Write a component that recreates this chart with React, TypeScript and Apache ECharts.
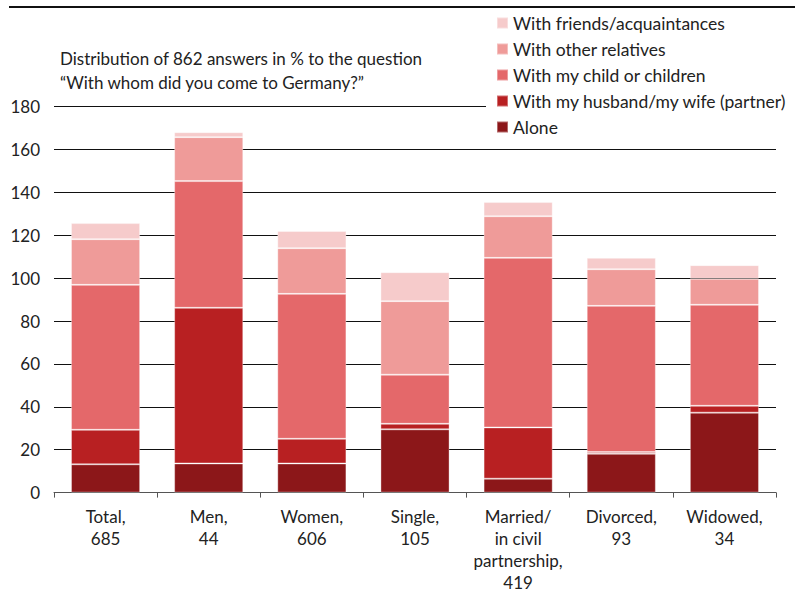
import React, { useEffect, useRef } from "react";
import * as echarts from "echarts";

const categories = [
  "Total,\n685",
  "Men,\n44",
  "Women,\n606",
  "Single,\n105",
  "Married/\nin civil\npartnership,\n419",
  "Divorced,\n93",
  "Widowed,\n34",
];

const alone = [13.2, 13.6, 13.6, 29.5, 6.5, 18.1, 37.3];
const husband = [16.1, 72.6, 11.5, 2.6, 23.9, 0.8, 3.2];
const child = [67.6, 59.1, 67.6, 22.9, 79.1, 68.2, 47.1];
const otherRelatives = [21.3, 20.5, 21.3, 34.3, 19.4, 17.1, 12.1];
const friends = [7.5, 2.3, 8.0, 13.5, 6.6, 5.3, 6.4];

const seriesNames = [
  "Alone",
  "With my husband/my wife (partner)",
  "With my child or children",
  "With other relatives",
  "With friends/acquaintances",
];
const colors = ["#8c1719", "#b82022", "#e4686a", "#ef9b99", "#f6cbcb"];

const FONT = "Lato";

export default function App() {
  const ref = useRef<HTMLDivElement>(null);
  useEffect(() => {
    if (!ref.current) return;
    const chart = echarts.init(ref.current, undefined, { renderer: "svg" });
    const dataSets = [alone, husband, child, otherRelatives, friends];
    chart.setOption({
      animation: false,
      textStyle: { fontFamily: FONT },
      title: {
        text: "Distribution of 862 answers in % to the question\n\u201cWith whom did you come to Germany?\u201d",
        left: 55,
        top: 41,
        textStyle: {
          fontFamily: FONT,
          fontSize: 17,
          fontWeight: "normal",
          color: "#222",
          lineHeight: 24,
        },
      },
      legend: {
        orient: "vertical",
        left: 486,
        top: 10,
        padding: [0, 10, 4, 10],
        itemGap: 0,
        itemWidth: 11,
        itemHeight: 11,
        backgroundColor: "#fff",
        data: [...seriesNames].reverse(),
        icon: "rect",
        textStyle: {
          fontFamily: FONT,
          fontSize: 17.5,
          color: "#222",
          lineHeight: 26,
        },
        z: 10,
      },
      grid: {
        left: 54,
        right: 32,
        top: 106.7,
        bottom: 101.4,
        containLabel: false,
        outerBoundsMode: "none",
      },
      xAxis: {
        type: "category",
        data: categories,
        axisLine: { show: true, lineStyle: { color: "#555", width: 1 } },
        axisTick: { show: true, length: 5, lineStyle: { color: "#555" } },
        axisLabel: {
          fontFamily: FONT,
          fontSize: 17,
          color: "#222",
          lineHeight: 22,
          margin: 13,
          interval: 0,
        },
      },
      yAxis: {
        type: "value",
        min: 0,
        max: 180,
        interval: 20,
        axisLine: { show: false },
        axisTick: { show: false },
        axisLabel: { fontFamily: FONT, fontSize: 17, color: "#222", margin: 14 },
        splitLine: { lineStyle: { color: "#111", width: 1 } },
      },
      series: dataSets.map((d, i) => ({
        name: seriesNames[i],
        type: "bar",
        stack: "total",
        data: d,
        barCategoryGap: "33%",
        itemStyle: {
          color: colors[i],
          borderColor: "rgba(255,255,255,0.35)",
          borderWidth: 1,
        },
      })),
      graphic: [
        {
          type: "line",
          z: 100,
          shape: { x1: 9, y1: 7, x2: 795, y2: 7 },
          style: { stroke: "#111", lineWidth: 2 },
        },
      ],
    });
    return () => chart.dispose();
  }, []);
  return (
    <div
      ref={ref}
      style={{ position: "fixed", left: 0, top: 0, width: 808, height: 594, background: "#fff" }}
    />
  );
}
